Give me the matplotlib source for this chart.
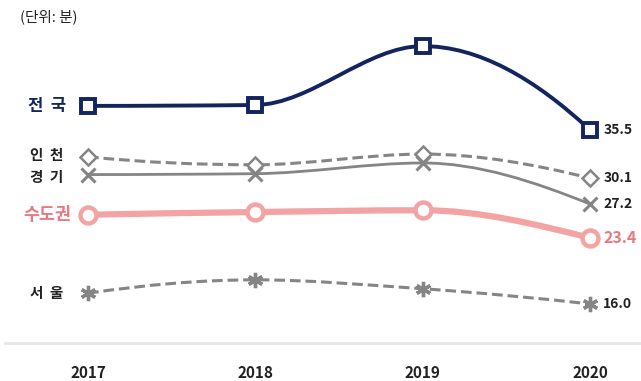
import matplotlib
matplotlib.use("Agg")
import matplotlib.pyplot as plt
from matplotlib.path import Path
from matplotlib.patches import PathPatch
import numpy as np

plt.rcParams['font.family'] = ['Noto Sans CJK KR', 'DejaVu Sans']

years = [2017, 2018, 2019, 2020]
nation = [38.2, 38.3, 44.9, 35.5]
incheon = [32.5, 31.6, 32.8, 30.1]
gyeonggi = [30.5, 30.6, 31.8, 27.2]
capital = [26.0, 26.3, 26.5, 23.4]
seoul = [17.2, 18.7, 17.7, 16.0]

names = ["전  국", "인  천", "경  기", "수도권", "서  울"]
unit_label = "(단위: 분)"

navy = "#13245e"
gray = "#858585"
pink = "#f4a3a5"
pink_text = "#ea7880"
dark = "#222222"

fig = plt.figure(figsize=(6.41, 3.81), dpi=100)
W, H = 641, 381
ax = fig.add_axes([5 / W, 38 / H, 636 / W, 343 / H])
ax.set_xlim(2016.504, 2020.305)
ax.set_ylim(11.62, 50.07)
for s in ["top", "left", "right"]:
    ax.spines[s].set_visible(False)
ax.spines["bottom"].set_color("#e6e6e6")
ax.spines["bottom"].set_linewidth(2)
ax.set_yticks([])
ax.set_xticks(years)
ax.set_xticklabels([str(y) for y in years], fontsize=11, fontweight="bold", color=dark)
ax.tick_params(axis="x", length=0, pad=16)


def pchip_slopes(x, y):
    x = np.asarray(x, float)
    y = np.asarray(y, float)
    h = np.diff(x)
    d = np.diff(y) / h
    n = len(x)
    m = np.zeros(n)
    for k in range(1, n - 1):
        if d[k - 1] * d[k] <= 0:
            m[k] = 0.0
        else:
            w1 = 2 * h[k] + h[k - 1]
            w2 = h[k] + 2 * h[k - 1]
            m[k] = (w1 + w2) / (w1 / d[k - 1] + w2 / d[k])
    m[0] = d[0]
    m[-1] = d[-1]
    if n > 2:
        m[0] = ((2 * h[0] + h[1]) * d[0] - h[0] * d[1]) / (h[0] + h[1])
        if np.sign(m[0]) != np.sign(d[0]):
            m[0] = 0
        m[-1] = ((2 * h[-1] + h[-2]) * d[-1] - h[-1] * d[-2]) / (h[-1] + h[-2])
        if np.sign(m[-1]) != np.sign(d[-1]):
            m[-1] = 0
    return m


def smooth_path(xs, ys):
    xs = np.asarray(xs, float)
    ys = np.asarray(ys, float)
    m = pchip_slopes(xs, ys)
    verts = [(xs[0], ys[0])]
    codes = [Path.MOVETO]
    for i in range(len(xs) - 1):
        h = xs[i + 1] - xs[i]
        c1 = (xs[i] + h / 3, ys[i] + m[i] * h / 3)
        c2 = (xs[i + 1] - h / 3, ys[i + 1] - m[i + 1] * h / 3)
        verts += [c1, c2, (xs[i + 1], ys[i + 1])]
        codes += [Path.CURVE4] * 3
    return Path(verts, codes)


def draw(vals, color, lw, ls, marker, ms, mew, z):
    patch = PathPatch(smooth_path(years, vals), facecolor="none", edgecolor=color,
                      lw=lw, linestyle=ls, zorder=z, capstyle="butt")
    ax.add_patch(patch)
    ax.plot(years, vals, linestyle="none", marker=marker, markersize=ms,
            markerfacecolor="white", markeredgecolor=color, markeredgewidth=mew,
            zorder=z + 0.5)


draw(seoul, gray, 2.2, (0, (3.5, 1.6)), (6, 2, 0), 11, 2.4, 2)
draw(capital, pink, 4.5, "-", "o", 11.5, 3.2, 3)
draw(gyeonggi, gray, 2.0, "-", "x", 10, 2.2, 2)
draw(incheon, gray, 2.2, (0, (3.5, 1.6)), "D", 8, 1.8, 2)
draw(nation, navy, 2.8, "-", "s", 10.5, 2.8, 4)

# Right value labels
vx = 2020.08
ax.text(vx, nation[-1], f"{nation[-1]:.1f}", fontsize=10, color=dark, fontweight="bold", va="center", ha="left")
ax.text(vx, incheon[-1], f"{incheon[-1]:.1f}", fontsize=10, color=dark, fontweight="bold", va="center", ha="left")
ax.text(vx, gyeonggi[-1], f"{gyeonggi[-1]:.1f}", fontsize=10, color=dark, fontweight="bold", va="center", ha="left")
ax.text(vx, capital[-1], f"{capital[-1]:.1f}", fontsize=11.5, color=pink_text,
        fontweight="bold", va="center", ha="left")
ax.text(vx, seoul[-1], f"{seoul[-1]:.1f}", fontsize=10, color=dark, fontweight="bold", va="center", ha="left")

# Left series labels
lx = 2016.755
ax.text(lx, nation[0], names[0], fontsize=12, color=navy, fontweight="bold", ha="center", va="center")
ax.text(lx, incheon[0] + 0.2, names[1], fontsize=10.5, color=dark, fontweight="bold", ha="center", va="center")
ax.text(lx, gyeonggi[0] - 0.3, names[2], fontsize=10.5, color=dark, fontweight="bold", ha="center", va="center")
ax.text(lx, capital[0], names[3], fontsize=12.5, color=pink_text, fontweight="bold", ha="center", va="center")
ax.text(lx, seoul[0], names[4], fontsize=10.5, color=dark, fontweight="bold", ha="center", va="center")

fig.text(20 / W, 1 - 17 / H, unit_label, fontsize=10.5, color=dark, ha="left", va="center")

fig.savefig("out.png", dpi=100, facecolor="white")
